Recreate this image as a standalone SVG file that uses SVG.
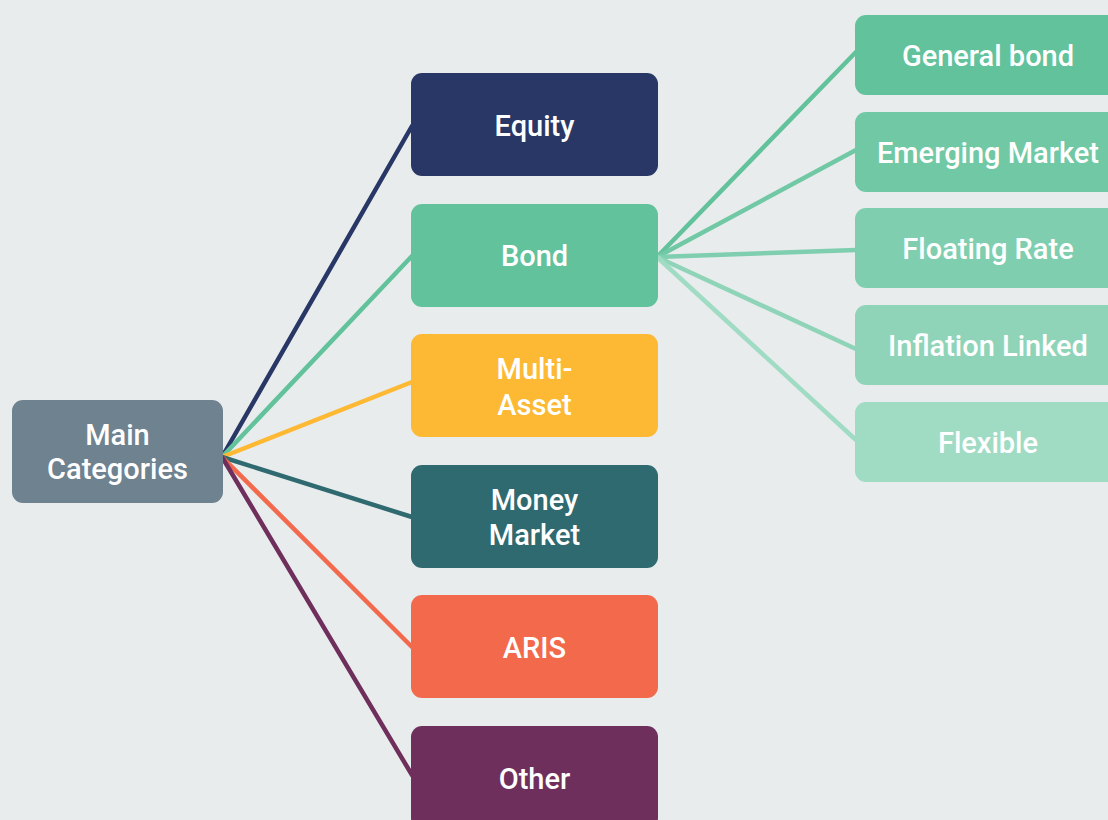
<svg xmlns="http://www.w3.org/2000/svg" width="1108" height="820" viewBox="0 0 1108 820">
<style>
.t{font-family:Roboto,"Liberation Sans",sans-serif;font-size:29px;font-weight:500;fill:#ffffff;text-anchor:middle}
.c{fill:none;stroke-width:4.5;stroke-linecap:round}
</style>
<rect x="0" y="0" width="1108" height="820" fill="#e8eced"/>
<g id="connectors">
<line class="c" x1="222" y1="457" x2="412" y2="126" stroke="#283765"/>
<line class="c" x1="222" y1="457" x2="412" y2="256" stroke="#62c29c"/>
<line class="c" x1="222" y1="457" x2="412" y2="382" stroke="#fdb934"/>
<line class="c" x1="222" y1="457" x2="412" y2="517" stroke="#2f6a70"/>
<line class="c" x1="222" y1="457" x2="412" y2="647" stroke="#f2694b"/>
<line class="c" x1="222" y1="457" x2="412" y2="775" stroke="#6f2f5d"/>
<line class="c" x1="657" y1="257" x2="856" y2="52" stroke="#62c29c"/>
<line class="c" x1="657" y1="257" x2="856" y2="150" stroke="#70c8a5"/>
<line class="c" x1="657" y1="257" x2="856" y2="250" stroke="#80ceb0"/>
<line class="c" x1="657" y1="257" x2="856" y2="349" stroke="#8fd4b9"/>
<line class="c" x1="657" y1="257" x2="856" y2="440" stroke="#a0dbc4"/>
</g>
<g id="main">
<rect x="12" y="400" width="211" height="103" rx="11" fill="#6e8290"/>
<text class="t" x="117.5" y="445">Main</text>
<text class="t" x="117.5" y="479">Categories</text>
</g>
<g id="equity">
<rect x="411" y="73" width="247" height="103" rx="11" fill="#283765"/>
<text class="t" x="534.5" y="136">Equity</text>
</g>
<g id="bond">
<rect x="411" y="204" width="247" height="103" rx="11" fill="#62c29c"/>
<text class="t" x="534.5" y="266">Bond</text>
</g>
<g id="multi-asset">
<rect x="411" y="334" width="247" height="103" rx="11" fill="#fdb934"/>
<text class="t" x="534.5" y="379">Multi-</text>
<text class="t" x="534.5" y="415">Asset</text>
</g>
<g id="money-market">
<rect x="411" y="465" width="247" height="103" rx="11" fill="#2f6a70"/>
<text class="t" x="534.5" y="510">Money</text>
<text class="t" x="534.5" y="545">Market</text>
</g>
<g id="aris">
<rect x="411" y="595" width="247" height="103" rx="11" fill="#f2694b"/>
<text class="t" x="534.5" y="658">ARIS</text>
</g>
<g id="other">
<rect x="411" y="726" width="247" height="103" rx="11" fill="#6f2f5d"/>
<text class="t" x="534.5" y="789">Other</text>
</g>
<g id="general-bond">
<rect x="855" y="15" width="266" height="80" rx="11" fill="#62c29c"/>
<text class="t" x="988" y="66">General bond</text>
</g>
<g id="emerging-market">
<rect x="855" y="112" width="266" height="80" rx="11" fill="#70c8a5"/>
<text class="t" x="988" y="163">Emerging Market</text>
</g>
<g id="floating-rate">
<rect x="855" y="208" width="266" height="80" rx="11" fill="#80ceb0"/>
<text class="t" x="988" y="259">Floating Rate</text>
</g>
<g id="inflation-linked">
<rect x="855" y="305" width="266" height="80" rx="11" fill="#8fd4b9"/>
<text class="t" x="988" y="356">Inflation Linked</text>
</g>
<g id="flexible">
<rect x="855" y="402" width="266" height="80" rx="11" fill="#a0dbc4"/>
<text class="t" x="988" y="453">Flexible</text>
</g>
</svg>
